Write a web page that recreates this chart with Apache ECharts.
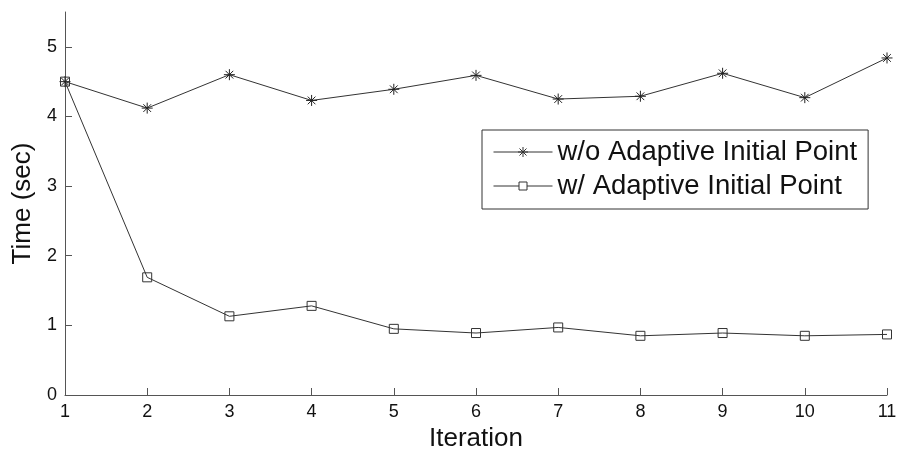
<!DOCTYPE html>
<html>
<head>
<meta charset="utf-8">
<script src="https://cdn.jsdelivr.net/npm/echarts@6/dist/echarts.min.js"></script>
<style>html,body{margin:0;padding:0;background:#fff;}#chart{width:902px;height:459px;}</style>
</head>
<body>
<div id="chart"></div>
<script>
const iterations = ['1','2','3','4','5','6','7','8','9','10','11'];
const withoutAdaptive = [4.50, 4.12, 4.60, 4.23, 4.39, 4.59, 4.25, 4.29, 4.62, 4.27, 4.84];
const withAdaptive = [4.50, 1.69, 1.13, 1.28, 0.95, 0.89, 0.97, 0.85, 0.89, 0.85, 0.87];
const yTicks = [0, 1, 2, 3, 4, 5];
const seriesNames = ['w/o Adaptive Initial Point', 'w/ Adaptive Initial Point'];

const FONT = '"Liberation Sans", Arial, sans-serif';
const starPath = 'path://M0,-10L0,10M-10,0L10,0M-7,-7L7,7M-7,7L7,-7';
const starLegendIcon = 'path://M0,5L59,5M29.5,0L29.5,10M24.5,5L34.5,5M26,1.5L33,8.5M26,8.5L33,1.5';
const squareLegendIcon = 'path://M0,4.5L25.5,4.5M33.5,4.5L59,4.5M25.5,0.5L33.5,0.5L33.5,8.5L25.5,8.5Z';

const chart = echarts.init(document.getElementById('chart'), null, {renderer: 'canvas'});
chart.setOption({
  animation: false,
  backgroundColor: '#ffffff',
  textStyle: {fontFamily: FONT},
  grid: {left: 65, right: 15, top: 12, bottom: 64, containLabel: false},
  legend: {
    orient: 'vertical',
    left: 482,
    top: 130,
    padding: [5, 11, 6, 11],
    itemWidth: 59,
    itemHeight: 10,
    itemGap: 0,
    borderColor: '#333',
    borderWidth: 1,
    backgroundColor: '#ffffff',
    textStyle: {fontSize: 27.5, lineHeight: 34, color: '#111', fontFamily: FONT},
    data: [
      {name: seriesNames[0], icon: starLegendIcon, itemStyle: {color: 'rgba(0,0,0,0)', borderColor: '#333', borderWidth: 1}},
      {name: seriesNames[1], icon: squareLegendIcon, itemStyle: {color: 'rgba(0,0,0,0)', borderColor: '#333', borderWidth: 1}}
    ]
  },
  xAxis: {
    type: 'category',
    data: iterations,
    boundaryGap: false,
    name: 'Iteration',
    nameLocation: 'middle',
    nameGap: 31,
    nameTextStyle: {fontSize: 26, color: '#111', fontFamily: FONT},
    axisLine: {lineStyle: {color: '#555', width: 1}},
    axisTick: {inside: true, length: 7, lineStyle: {color: '#555'}},
    axisLabel: {fontSize: 18, color: '#111', margin: 8, fontFamily: FONT},
    splitLine: {show: false}
  },
  yAxis: {
    type: 'value',
    min: 0,
    max: 5.5,
    interval: 1,
    name: 'Time (sec)',
    nameLocation: 'middle',
    nameGap: 27,
    nameTextStyle: {fontSize: 26, color: '#111', fontFamily: FONT},
    axisLine: {show: true, lineStyle: {color: '#555', width: 1}},
    axisTick: {show: true, inside: true, length: 7, lineStyle: {color: '#555'}, customValues: yTicks},
    axisLabel: {fontSize: 18, color: '#111', margin: 8, fontFamily: FONT, customValues: yTicks},
    splitLine: {show: false}
  },
  series: [
    {
      name: seriesNames[0],
      type: 'line',
      data: withoutAdaptive,
      symbol: starPath,
      symbolSize: 11,
      lineStyle: {color: '#333', width: 1},
      itemStyle: {color: '#222', borderColor: '#222', borderWidth: 1}
    },
    {
      name: seriesNames[1],
      type: 'line',
      data: withAdaptive,
      symbol: 'rect',
      symbolSize: 9,
      lineStyle: {color: '#333', width: 1},
      itemStyle: {color: 'rgba(0,0,0,0)', borderColor: '#333', borderWidth: 1}
    }
  ]
});
</script>
</body>
</html>
